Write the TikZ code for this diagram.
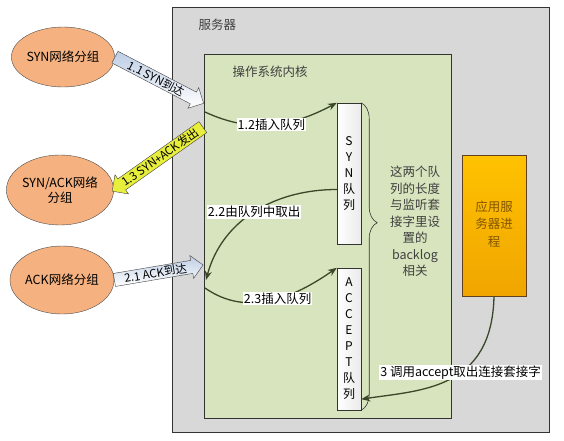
\documentclass[tikz,border=0pt]{standalone}
\usepackage{fontspec}
\setmainfont{Noto Sans CJK SC}
\usetikzlibrary{shapes.geometric, shapes.arrows, decorations.pathreplacing, arrows.meta}
\tikzset{>={Stealth[length=9pt, width=7pt]}}
\definecolor{servergray}{RGB}{216,216,216}
\definecolor{kernelgreen}{RGB}{215,228,189}
\definecolor{pktorange}{RGB}{245,178,128}
\definecolor{appyellow}{RGB}{255,194,0}
\definecolor{appdark}{RGB}{240,165,0}
\definecolor{flowgreen}{RGB}{58,72,42}
\definecolor{arrowblue}{RGB}{190,206,230}
\definecolor{arrowyellow}{RGB}{232,238,60}
\definecolor{txtgray}{RGB}{64,64,64}
\definecolor{apptext}{RGB}{130,85,0}
\tikzset{
    box/.style={draw=black!80, line width=0.8pt, anchor=south west, inner sep=0pt},
    title/.style={anchor=west, text=txtgray, font=\fontsize{12.5}{14}\selectfont},
    packet/.style={ellipse, draw=black!70, fill=pktorange, align=center, inner sep=0pt, font=\fontsize{12.5}{15}\selectfont},
    queue/.style={draw=black!80, left color=white, right color=black!8, minimum width=24pt, align=center, inner sep=0pt, font=\fontsize{12}{16}\selectfont},
    blockarrow/.style={single arrow, draw=black!75, sloped, inner xsep=3pt, inner ysep=1.2pt, single arrow head extend=5pt, single arrow head indent=0pt, font=\fontsize{11.5}{11.5}\selectfont},
    flow/.style={->, draw=flowgreen, line width=1.3pt},
    flowlabel/.style={fill=white, inner sep=1pt, text=black, font=\fontsize{12.5}{14}\selectfont}
}
\begin{document}
\begin{tikzpicture}[x=1pt, y=1pt]
    \useasboundingbox (0,0) rectangle (564,440);
    \node[box, fill=servergray, minimum width=377pt, minimum height=425pt] (server) at (172,7) {};
    \node[title] (servertitle) at (195,415) {服务器};
    \node[box, fill=kernelgreen, minimum width=247pt, minimum height=364pt] (kernel) at (204,21) {};
    \node[title] (kerneltitle) at (229,368) {操作系统内核};
    \node[queue, minimum height=141pt] (synq) at (349,266.5) {S\\Y\\N\\队\\列};
    \node[queue, minimum height=142pt] (acceptq) at (349,101) {A\\C\\C\\E\\P\\T\\队\\列};
    \draw[black!80, line width=0.6pt, decorate, decoration={brace, amplitude=16pt, aspect=0.39}] (synq.north east) -- (acceptq.south east);
    \node[align=center, text=txtgray, font=\fontsize{12.5}{16.5}\selectfont] (note) at (415,218.5) {这两个队\\列的长度\\与监听套\\接字里设\\置的\\backlog\\相关};
    \node[draw=black!50!brown, top color=appyellow, bottom color=appdark, minimum width=64pt, minimum height=141pt] (app) at (494,214.5) {};
    \node[align=center, anchor=north, text=apptext, font=\fontsize{12.5}{17.5}\selectfont] (apptitle) at (494,243) {应用服\\务器进\\程};

    \node[packet, minimum width=102pt, minimum height=60pt] (synpkt) at (63,383) {SYN网络分组};
    \node[packet, minimum width=104pt, minimum height=70pt] (synackpkt) at (60,250) {SYN/ACK网络\\分组};
    \node[packet, minimum width=104pt, minimum height=68pt] (ackpkt) at (62,160) {ACK网络分组};

    \coordinate (synin) at (203,337);
    \coordinate (synackout) at (203,313);
    \coordinate (ackin) at (203,175);
    \coordinate (synrecv) at (205,328);
    \coordinate (ackrecv) at (206,160);
    \coordinate (ackqueue) at (205,152);

    \path (synpkt.east) -- node[blockarrow, pos=0, anchor=tail, top color=arrowblue, bottom color=white, minimum height=100pt] {1.1 SYN到达} (synin);
    \path (synackpkt.east) -- node[blockarrow, pos=1, anchor=tail, shape border rotate=180, fill=arrowyellow, minimum height=111pt] {1.3 SYN+ACK发出} (synackout);
    \path (ackpkt.east) -- node[blockarrow, pos=0, anchor=tail, top color=arrowblue, bottom color=white, minimum height=90pt] {2.1 ACK到达} (ackin);

    \draw[flow] (synrecv) to[out=-25, in=208] node[flowlabel, pos=0.5] {1.2插入队列} (synq.north west);
    \draw[flow] ([yshift=-16pt]synq.west) to[out=180, in=75] node[flowlabel, pos=0.5] {2.2由队列中取出} (ackrecv);
    \draw[flow] (ackqueue) to[out=-35, in=215] node[flowlabel, pos=0.55] {2.3插入队列} (acceptq.north west);
    \draw[flow] (app.south) .. controls +(-2,-94) and +(59,9) .. node[flowlabel, pos=0.42] {3 调用accept取出连接套接字} ([yshift=11pt]acceptq.south east);
\end{tikzpicture}
\end{document}
